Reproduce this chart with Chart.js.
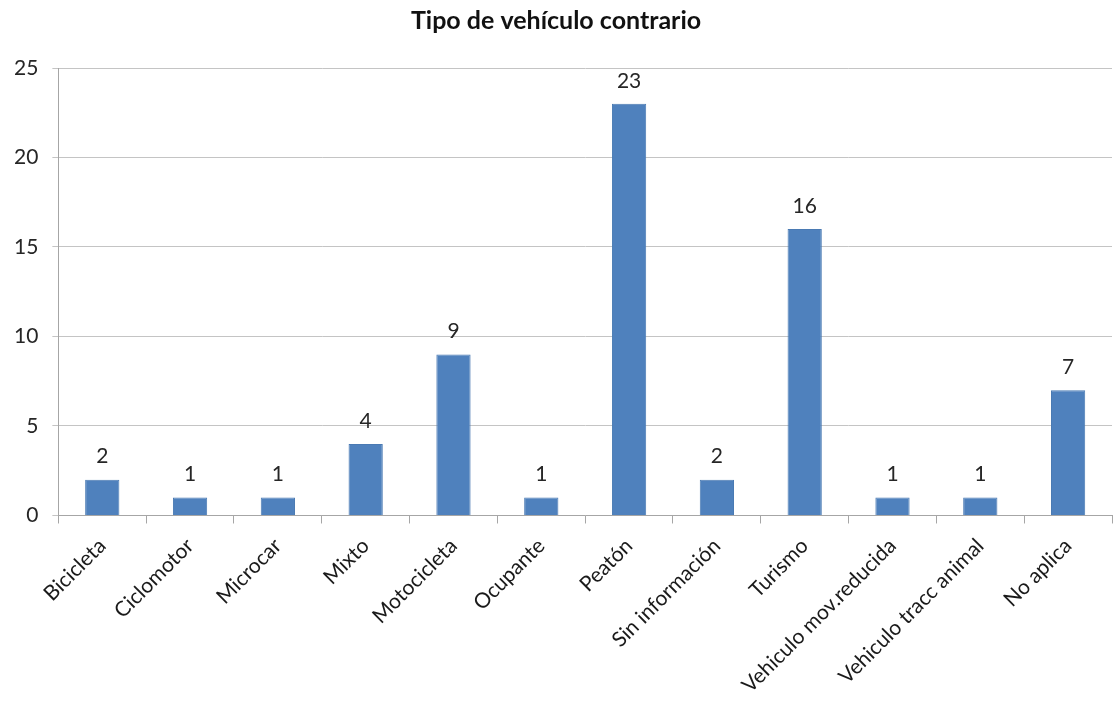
<!DOCTYPE html>
<html>
<head>
<meta charset="utf-8">
<script src="https://cdn.jsdelivr.net/npm/chart.js@4.4.0/dist/chart.umd.min.js"></script>
<style>
  body { margin: 0; background: #fff; }
  #wrap { width: 1117px; height: 713px; }
</style>
</head>
<body>
<div id="wrap"><canvas id="chart" width="1117" height="713"></canvas></div>
<script>
const categories = ["Bicicleta", "Ciclomotor", "Microcar", "Mixto", "Motocicleta", "Ocupante",
  "Peatón", "Sin información", "Turismo", "Vehiculo mov.reducida", "Vehiculo tracc animal", "No aplica"];
const counts = [2, 1, 1, 4, 9, 1, 23, 2, 16, 1, 1, 7];
const yTicks = [0, 5, 10, 15, 20, 25];

const fontFamily = "Lato, 'Open Sans', sans-serif";

// draws the value above each bar
const valueLabels = {
  id: "valueLabels",
  afterDatasetsDraw(chart) {
    const ctx = chart.ctx;
    const meta = chart.getDatasetMeta(0);
    ctx.save();
    ctx.font = "21px " + fontFamily;
    ctx.fillStyle = "#262626";
    ctx.textAlign = "center";
    ctx.textBaseline = "middle";
    meta.data.forEach((bar, i) => {
      ctx.fillText(counts[i], bar.x, bar.y - 23);
    });
    ctx.restore();
  }
};

new Chart(document.getElementById("chart"), {
  type: "bar",
  data: {
    labels: categories,
    datasets: [{
      data: counts,
      backgroundColor: "#4F81BD",
      borderColor: "#4a7ab3",
      borderWidth: 1,
      barPercentage: 0.39,
      categoryPercentage: 1
    }]
  },
  options: {
    responsive: false,
    animation: false,
    layout: { padding: { left: 0, right: 5, top: 0, bottom: 5 } },
    plugins: {
      legend: { display: false },
      tooltip: { enabled: false },
      title: {
        display: true,
        text: "Tipo de vehículo contrario",
        color: "#111",
        font: { family: fontFamily, size: 25, weight: "bold" },
        padding: { top: 6, bottom: 32 }
      }
    },
    scales: {
      x: {
        grid: { offset: true, drawOnChartArea: false, tickLength: 8, color: "#a6a6a6" },
        border: { color: "#a6a6a6" },
        ticks: {
          minRotation: 45,
          maxRotation: 45,
          color: "#1a1a1a",
          font: { family: fontFamily, size: 21 },
          padding: 10
        }
      },
      y: {
        min: 0,
        max: 25,
        afterBuildTicks(axis) { axis.ticks = yTicks.map(v => ({ value: v })); },
        grid: { color: "#c4c4c4", tickLength: 6 },
        border: { color: "#a6a6a6" },
        ticks: {
          color: "#262626",
          font: { family: fontFamily, size: 21 },
          padding: 14
        }
      }
    }
  },
  plugins: [valueLabels]
});
</script>
</body>
</html>
